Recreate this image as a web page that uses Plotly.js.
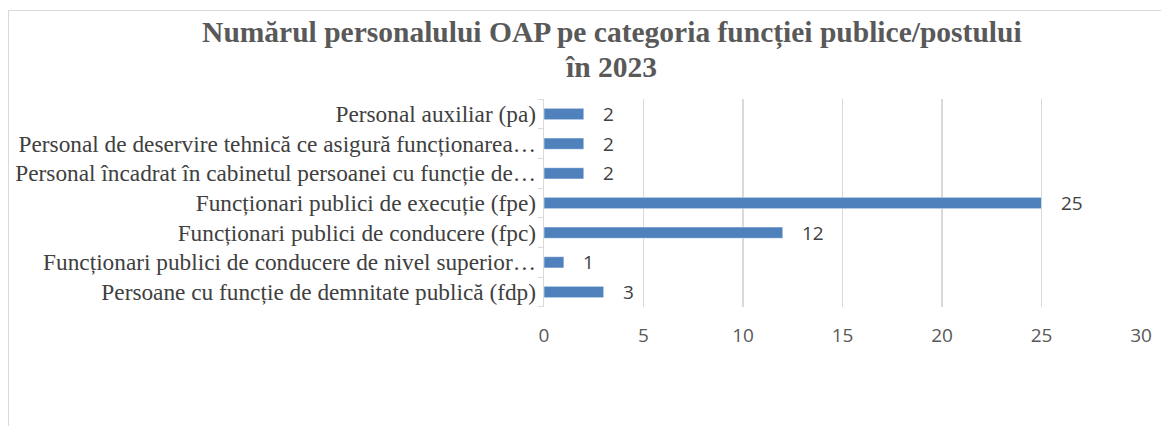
<!DOCTYPE html>
<html>
<head>
<meta charset="utf-8">
<script src="https://cdn.plot.ly/plotly-3.0.1.min.js"></script>
<style>
  html, body { margin: 0; padding: 0; background: #fff; overflow: hidden; }
  #frame { position: absolute; left: 8px; top: 10px; width: 1200px; height: 460px;
           border: 1px solid #d9d9d9; box-sizing: border-box; pointer-events: none; }
  #chart { width: 1161px; height: 426px; }
</style>
</head>
<body>
<div id="chart"></div>
<div id="frame"></div>
<script>
// categorii, de jos in sus (ca in Excel)
const categories = [
    "Persoane cu funcție de demnitate publică (fdp)",
    "Funcționari publici de conducere de nivel superior…",
    "Funcționari publici de conducere (fpc)",
    "Funcționari publici de execuție (fpe)",
    "Personal încadrat în cabinetul persoanei cu funcție de…",
    "Personal de deservire tehnică ce asigură funcționarea…",
    "Personal auxiliar (pa)"
];
const values = [3, 1, 12, 25, 2, 2, 2];
const xTicks = [0, 5, 10, 15, 20, 25, 30];
const titleLines = ["Numărul personalului OAP pe categoria funcției publice/postului", "în 2023"];

const blue = "#4f81bd";
const sans = "Open Sans, Liberation Sans, sans-serif";
const serif = "Liberation Serif, Times New Roman, serif";
const titleFont = { family: serif, size: 29.5, color: "#595959" };

let trace = {
    type: "bar",
    orientation: "h",
    x: values,
    y: categories,
    marker: { color: blue, line: { color: "#ffffff", width: 0.5 } },
    width: 0.38,
    hoverinfo: "x+y"
};

// etichete de date puse langa capatul barei
let labels = values.map((v, i) => ({
    x: v,
    y: categories[i],
    xref: "x",
    yref: "y",
    text: String(v),
    showarrow: false,
    xanchor: "left",
    xshift: 17,
    font: { family: sans, size: 19, color: "#404040" }
}));

// al doilea rand al titlului (spatiere ca in Excel)
labels.push({
    x: 0.1122,
    y: 1.154,
    xref: "paper",
    yref: "paper",
    text: "<b>" + titleLines[1] + "</b>",
    showarrow: false,
    xanchor: "center",
    yanchor: "middle",
    font: titleFont
});

let layout = {
    width: 1161,
    height: 426,
    margin: { l: 544, r: 20, t: 99, b: 119 },
    paper_bgcolor: "#ffffff",
    plot_bgcolor: "#ffffff",
    showlegend: false,
    title: {
        text: "<b>" + titleLines[0] + "</b>",
        font: titleFont,
        x: 0.527,
        xanchor: "center",
        y: 0.95,
        yref: "container",
        yanchor: "top"
    },
    xaxis: {
        range: [0, 30],
        tickvals: xTicks,
        showgrid: true,
        gridcolor: "#d9d9d9",
        gridwidth: 1.3,
        zeroline: false,
        showline: false,
        ticks: "",
        tickfont: { family: sans, size: 19, color: "#595959" },
        ticklabelstandoff: 15,
        fixedrange: true
    },
    yaxis: {
        type: "category",
        categoryorder: "array",
        categoryarray: categories,
        showline: true,
        linecolor: "#d9d9d9",
        linewidth: 1.3,
        ticks: "outside",
        tickson: "boundaries",
        ticklen: 5,
        tickcolor: "#d9d9d9",
        showgrid: false,
        tickfont: { family: serif, size: 23.3, color: "#404040" },
        ticklabelstandoff: 2,
        fixedrange: true
    },
    annotations: labels,
    bargap: 0.62
};

Plotly.newPlot("chart", [trace], layout, { displayModeBar: false, staticPlot: true });
</script>
</body>
</html>
